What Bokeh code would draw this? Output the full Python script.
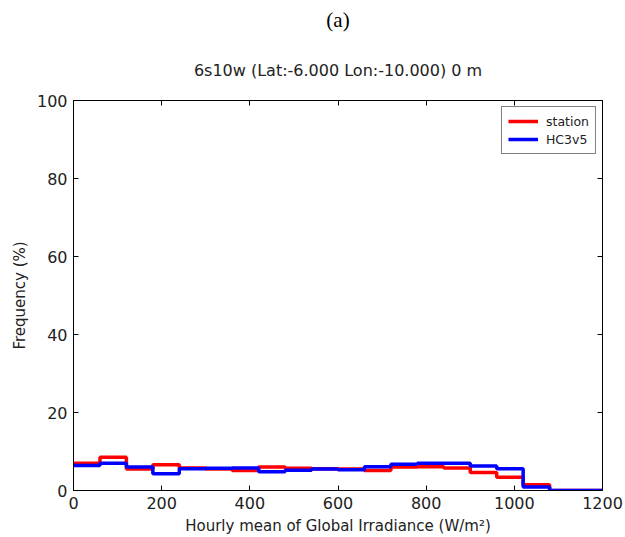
from bokeh.plotting import figure
from bokeh.models import Range1d, LinearAxis, Title, Legend, LegendItem, FixedTicker
from bokeh.embed import file_html
from bokeh.resources import INLINE

# Histogram bin edges (W/m2) and frequencies (%) per bin
bin_edges = [0, 60, 120, 180, 240, 300, 360, 420, 480, 540, 600,
             660, 720, 780, 840, 900, 960, 1020, 1080, 1140, 1200]
station = [7.0, 8.5, 5.5, 6.6, 5.8, 5.5, 5.1, 6.0, 5.7, 5.6,
           5.5, 5.1, 6.0, 6.1, 5.8, 4.6, 3.4, 1.5, 0.0, 0.0]
hc3v5 = [6.4, 7.0, 6.0, 4.3, 5.6, 5.7, 5.8, 4.8, 5.2, 5.5,
         5.3, 6.1, 6.7, 7.0, 7.0, 6.3, 5.6, 0.9, 0.0, 0.0]
x_ticks = [0, 200, 400, 600, 800, 1000, 1200]
y_ticks = [0, 20, 40, 60, 80, 100]

FONT = "DejaVu Sans"

p = figure(width=625, height=537, output_backend="svg", toolbar_location=None,
           x_range=Range1d(0, 1200), y_range=Range1d(0, 100),
           min_border_left=73, min_border_right=23, min_border_top=100,
           min_border_bottom=47)
p.grid.visible = False
p.outline_line_color = "black"
p.outline_line_width = 1
p.background_fill_color = "white"
p.border_fill_color = "white"

# outer panel label
p.title.text = "(a)"
p.title.align = "center"
p.title.text_font = "Liberation Serif"
p.title.text_font_size = "21px"
p.title.text_font_style = "normal"
p.title.text_color = "black"
p.title.standoff = 11

# mirrored tick axes on the top and right edges (ticks only)
top_axis = LinearAxis()
right_axis = LinearAxis()
p.add_layout(top_axis, "above")
p.add_layout(right_axis, "right")

# station title sits between the panel label and the frame
p.add_layout(Title(text="6s10w (Lat:-6.000 Lon:-10.000) 0 m", align="center",
                   text_font=FONT, text_font_size="16px",
                   text_font_style="normal", text_color="#222222",
                   standoff=42), "above")

bottom_axis = p.below[0]
left_axis = p.left[0]
bottom_axis.axis_label = "Hourly mean of Global Irradiance (W/m\u00b2)"
left_axis.axis_label = "Frequency (%)"
for ax in (bottom_axis, top_axis):
    ax.ticker = FixedTicker(ticks=x_ticks)
for ax in (left_axis, right_axis):
    ax.ticker = FixedTicker(ticks=y_ticks)
for ax in (bottom_axis, top_axis, left_axis, right_axis):
    ax.major_tick_in = 5
    ax.major_tick_out = 0
    ax.minor_tick_in = 0
    ax.minor_tick_out = 0
    ax.axis_line_color = "black"
    ax.major_label_text_font = FONT
    ax.major_label_text_font_size = "16px"
    ax.major_label_text_color = "#222222"
    ax.major_label_standoff = 6
    ax.axis_label_text_font = FONT
    ax.axis_label_text_font_size = "15px"
    ax.axis_label_text_font_style = "normal"
    ax.axis_label_text_color = "#222222"

top_axis.major_label_overrides = {t: "" for t in x_ticks}
right_axis.major_label_overrides = {t: "" for t in y_ticks}
for ax in (top_axis, right_axis):
    ax.major_label_standoff = 0
    ax.major_label_text_font_size = "1px"

# step outlines of the two histograms
r_station = p.step(bin_edges, station + [station[-1]], mode="after",
                   line_color="red", line_width=3.5)
r_hc = p.step(bin_edges, hc3v5 + [hc3v5[-1]], mode="after",
              line_color="blue", line_width=3.5)

legend = Legend(items=[LegendItem(label="station", renderers=[r_station]),
                       LegendItem(label="HC3v5", renderers=[r_hc])],
                location="top_right")
legend.label_text_font = FONT
legend.label_text_font_size = "12.5px"
legend.label_text_color = "#222222"
legend.border_line_color = "black"
legend.border_line_width = 1
legend.glyph_width = 30
legend.glyph_height = 16
legend.label_height = 16
legend.spacing = 2
legend.padding = 6
legend.margin = 6
legend.label_standoff = 8
p.add_layout(legend, "center")

open("out.html", "w").write(file_html(p, INLINE))
